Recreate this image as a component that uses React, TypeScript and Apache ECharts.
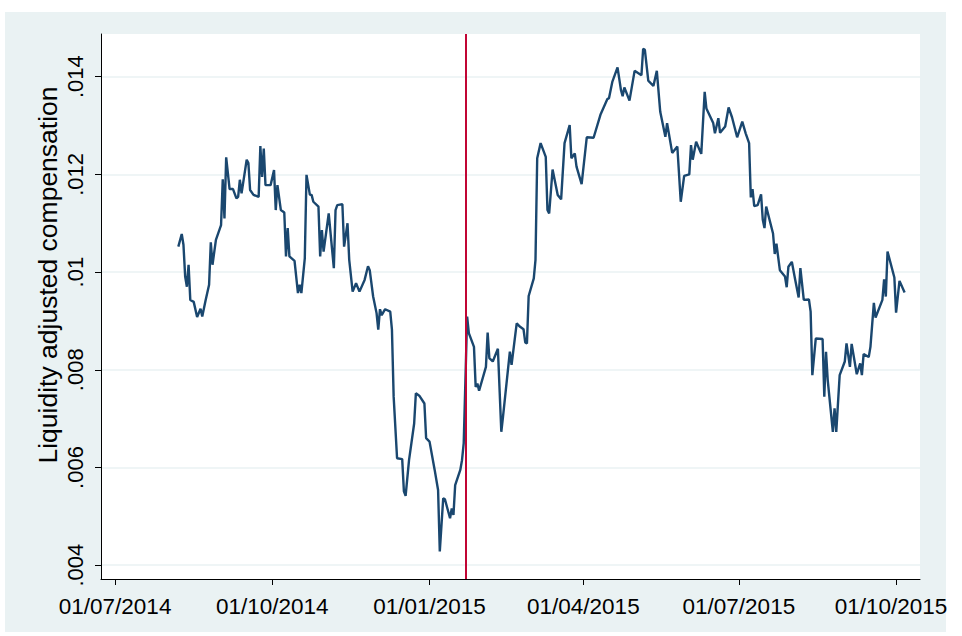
import React, { useEffect, useRef } from "react";
import * as echarts from "echarts";

const dates: string[] = [
  "2014-08-07","2014-08-09","2014-08-10","2014-08-11","2014-08-12","2014-08-13","2014-08-14","2014-08-16","2014-08-18","2014-08-20",
  "2014-08-21","2014-08-23","2014-08-25","2014-08-26","2014-08-27","2014-08-29","2014-09-01","2014-09-02","2014-09-03","2014-09-04",
  "2014-09-06","2014-09-08","2014-09-10","2014-09-11","2014-09-12","2014-09-13","2014-09-16","2014-09-17","2014-09-18","2014-09-20",
  "2014-09-23","2014-09-24","2014-09-25","2014-09-26","2014-09-27","2014-09-30","2014-10-02","2014-10-03","2014-10-04","2014-10-06",
  "2014-10-08","2014-10-09","2014-10-10","2014-10-11","2014-10-14","2014-10-16","2014-10-17","2014-10-18","2014-10-20","2014-10-21",
  "2014-10-23","2014-10-24","2014-10-25","2014-10-28","2014-10-29","2014-10-30","2014-10-31","2014-11-03","2014-11-06","2014-11-07",
  "2014-11-08","2014-11-11","2014-11-12","2014-11-14","2014-11-15","2014-11-17","2014-11-19","2014-11-21","2014-11-24","2014-11-26",
  "2014-11-27","2014-11-29","2014-12-01","2014-12-02","2014-12-03","2014-12-04","2014-12-06","2014-12-09","2014-12-10","2014-12-11",
  "2014-12-13","2014-12-16","2014-12-17","2014-12-18","2014-12-20","2014-12-23","2014-12-24","2014-12-26","2014-12-29","2014-12-30",
  "2015-01-01","2015-01-04","2015-01-06","2015-01-07","2015-01-09","2015-01-10","2015-01-13","2015-01-14","2015-01-15","2015-01-16",
  "2015-01-19","2015-01-20","2015-01-21","2015-01-23","2015-01-24","2015-01-27","2015-01-28","2015-01-29","2015-01-30","2015-02-03",
  "2015-02-04","2015-02-05","2015-02-07","2015-02-10","2015-02-12","2015-02-13","2015-02-17","2015-02-18","2015-02-21","2015-02-23",
  "2015-02-25","2015-02-26","2015-02-27","2015-02-28","2015-03-03","2015-03-04","2015-03-05","2015-03-07","2015-03-10","2015-03-11",
  "2015-03-12","2015-03-14","2015-03-17","2015-03-19","2015-03-21","2015-03-24","2015-03-25","2015-03-27","2015-03-28","2015-03-31",
  "2015-04-03","2015-04-07","2015-04-11","2015-04-15","2015-04-16","2015-04-18","2015-04-21","2015-04-23","2015-04-24","2015-04-25",
  "2015-04-28","2015-05-01","2015-05-05","2015-05-06","2015-05-07","2015-05-09","2015-05-12","2015-05-14","2015-05-16","2015-05-19",
  "2015-05-20","2015-05-23","2015-05-26","2015-05-28","2015-05-30","2015-06-02","2015-06-03","2015-06-04","2015-06-06","2015-06-09",
  "2015-06-11","2015-06-12","2015-06-16","2015-06-17","2015-06-19","2015-06-20","2015-06-23","2015-06-25","2015-06-27","2015-06-30",
  "2015-07-03","2015-07-05","2015-07-07","2015-07-08","2015-07-09","2015-07-10","2015-07-12","2015-07-14","2015-07-15","2015-07-16",
  "2015-07-17","2015-07-21","2015-07-22","2015-07-23","2015-07-25","2015-07-28","2015-07-29","2015-07-30","2015-08-01","2015-08-03",
  "2015-08-05","2015-08-06","2015-08-08","2015-08-11","2015-08-12","2015-08-13","2015-08-15","2015-08-19","2015-08-20","2015-08-21",
  "2015-08-22","2015-08-25","2015-08-26","2015-08-27","2015-08-29","2015-09-01","2015-09-02","2015-09-04","2015-09-05","2015-09-08",
  "2015-09-10","2015-09-11","2015-09-12","2015-09-15","2015-09-16","2015-09-18","2015-09-19","2015-09-23","2015-09-24","2015-09-25",
  "2015-09-26","2015-09-30","2015-10-01","2015-10-03","2015-10-06"
];

// Liquidity adjusted compensation
const values: number[] = [
  0.01052,0.01078,0.01056,0.00991,0.00970,0.01015,0.00943,0.00939,0.00908,0.00925,
  0.00909,0.00943,0.00974,0.01061,0.01015,0.01066,0.01096,0.01190,0.01110,0.01235,
  0.01170,0.01170,0.01151,0.01154,0.01189,0.01161,0.01230,0.01223,0.01168,0.01158,
  0.01154,0.01258,0.01195,0.01253,0.01178,0.01178,0.01209,0.01127,0.01178,0.01127,
  0.01122,0.01032,0.01090,0.01032,0.01023,0.00957,0.00974,0.00957,0.01028,0.01199,
  0.01158,0.01158,0.01144,0.01134,0.01032,0.01086,0.01042,0.01120,0.01008,0.01127,
  0.01137,0.01139,0.01052,0.01100,0.01025,0.00960,0.00977,0.00960,0.00984,0.01012,
  0.01004,0.00950,0.00916,0.00882,0.00924,0.00912,0.00924,0.00919,0.00882,0.00745,
  0.00619,0.00617,0.00551,0.00542,0.00615,0.00690,0.00752,0.00747,0.00731,0.00660,
  0.00653,0.00595,0.00554,0.00428,0.00537,0.00535,0.00496,0.00516,0.00503,0.00564,
  0.00595,0.00615,0.00650,0.00909,0.00875,0.00847,0.00765,0.00772,0.00757,0.00806,
  0.00876,0.00824,0.00817,0.00843,0.00673,0.00704,0.00837,0.00810,0.00895,0.00888,
  0.00883,0.00856,0.00854,0.00951,0.00987,0.01025,0.01233,0.01264,0.01236,0.01127,
  0.01120,0.01210,0.01158,0.01149,0.01264,0.01301,0.01233,0.01243,0.01216,0.01180,
  0.01276,0.01275,0.01322,0.01354,0.01356,0.01390,0.01419,0.01373,0.01360,0.01378,
  0.01351,0.01412,0.01403,0.01457,0.01455,0.01392,0.01381,0.01412,0.01328,0.01277,
  0.01305,0.01244,0.01257,0.01144,0.01197,0.01200,0.01260,0.01230,0.01267,0.01242,
  0.01369,0.01335,0.01305,0.01284,0.01315,0.01285,0.01298,0.01337,0.01317,0.01276,
  0.01308,0.01284,0.01264,0.01153,0.01170,0.01135,0.01137,0.01159,0.01107,0.01090,
  0.01134,0.01079,0.01037,0.01058,0.01004,0.00991,0.00969,0.01011,0.01021,0.00984,
  0.00948,0.01008,0.00943,0.00944,0.00919,0.00789,0.00864,0.00863,0.00745,0.00837,
  0.00779,0.00673,0.00721,0.00673,0.00789,0.00817,0.00854,0.00806,0.00853,0.00791,
  0.00813,0.00789,0.00832,0.00826,0.00847,0.00937,0.00907,0.00943,0.00985,0.00950,
  0.01042,0.00989,0.00917,0.00982,0.00958
];

const xTickDates: string[] = ["2014-07-01", "2014-10-01", "2015-01-01", "2015-04-01", "2015-07-01", "2015-10-01"];
const yTickValues: number[] = [0.004, 0.006, 0.008, 0.01, 0.012, 0.014];
const yTickLabels: string[] = [".004", ".006", ".008", ".01", ".012", ".014"];
const yTitle = "Liquidity adjusted compensation";
const eventDate = "2015-01-22";
const xRange: string[] = ["2014-06-22", "2015-10-15"];
const yRange: number[] = [0.003717, 0.014874];

const toUTC = (s: string): number => {
  const [y, m, d] = s.split("-").map(Number);
  return Date.UTC(y, m - 1, d);
};
const pad = (n: number) => (n < 10 ? "0" + n : "" + n);
const fmtDate = (v: number) => {
  const d = new Date(v);
  return pad(d.getUTCDate()) + "/" + pad(d.getUTCMonth() + 1) + "/" + d.getUTCFullYear();
};

const FONT = "'Liberation Sans', Arial, sans-serif";

export default function App() {
  const ref = useRef<HTMLDivElement>(null);
  useEffect(() => {
    document.body.style.margin = "0";
    if (!ref.current) return;
    const chart = echarts.init(ref.current, undefined, { renderer: "svg" });
    const seriesData = dates.map((d, i) => [toUTC(d), values[i]]);
    const xTicks = xTickDates.map(toUTC);
    const lastTick = xTicks[xTicks.length - 1];
    chart.setOption({
      animation: false,
      backgroundColor: "transparent",
      grid: {
        left: 101,
        right: 42,
        top: 34,
        bottom: 57,
        show: true,
        backgroundColor: "#ffffff",
        borderWidth: 0,
        containLabel: false,
        outerBoundsMode: "none",
      },
      graphic: [
        {
          type: "text",
          x: 48,
          y: 275,
          rotation: Math.PI / 2,
          style: {
            text: yTitle,
            font: "26.5px 'Liberation Sans', Arial, sans-serif",
            fill: "#000000",
            align: "center",
            verticalAlign: "middle",
          },
        },
      ],
      xAxis: {
        type: "value",
        min: toUTC(xRange[0]) + 18 * 3600 * 1000,
        max: toUTC(xRange[1]),
        axisLine: { show: true, onZero: false, lineStyle: { color: "#000000", width: 1 } },
        axisTick: { show: true, length: 6, customValues: xTicks, lineStyle: { color: "#000000", width: 1 } },
        axisLabel: {
          customValues: xTicks,
          formatter: (v: number) => (v === lastTick ? "{last|" + fmtDate(v) + "}" : fmtDate(v)),
          rich: {
            last: { fontFamily: FONT, fontSize: 22.5, color: "#000000", padding: [0, 10, 0, 0] },
          },
          fontFamily: FONT,
          fontSize: 22.5,
          color: "#000000",
          margin: 16,
          hideOverlap: false,
        },
        splitLine: { show: false },
      },
      yAxis: {
        type: "value",
        min: yRange[0],
        max: yRange[1],
        axisLine: { show: true, lineStyle: { color: "#000000", width: 1 } },
        axisTick: { show: true, length: 6, customValues: yTickValues, lineStyle: { color: "#000000", width: 1 } },
        axisLabel: {
          customValues: yTickValues,
          rotate: 90,
          formatter: (v: number) => {
            const i = yTickValues.findIndex((t) => Math.abs(t - v) < 1e-9);
            return i >= 0 ? yTickLabels[i] : "";
          },
          fontFamily: FONT,
          fontSize: 22,
          color: "#000000",
          margin: 15,
        },
        splitLine: { show: true, lineStyle: { color: "#eaf2f3", width: 1.5 } },
      },
      series: [
        {
          type: "line",
          data: seriesData,
          symbol: "none",
          lineStyle: { color: "#1a476f", width: 2.4 },
          markLine: {
            silent: true,
            symbol: ["none", "none"],
            label: { show: false },
            lineStyle: { color: "#c10534", width: 2, type: "solid" },
            data: [{ xAxis: toUTC(eventDate) }],
          },
        },
      ],
    });
    return () => chart.dispose();
  }, []);
  return (
    <div style={{ position: "relative", width: 962, height: 636, background: "#ffffff" }}>
      <div
        style={{
          position: "absolute",
          left: 5,
          top: 12,
          width: 941,
          height: 620,
          background: "#eaf2f3",
        }}
      />
      <div ref={ref} style={{ position: "absolute", left: 0, top: 0, width: 962, height: 636 }} />
    </div>
  );
}
